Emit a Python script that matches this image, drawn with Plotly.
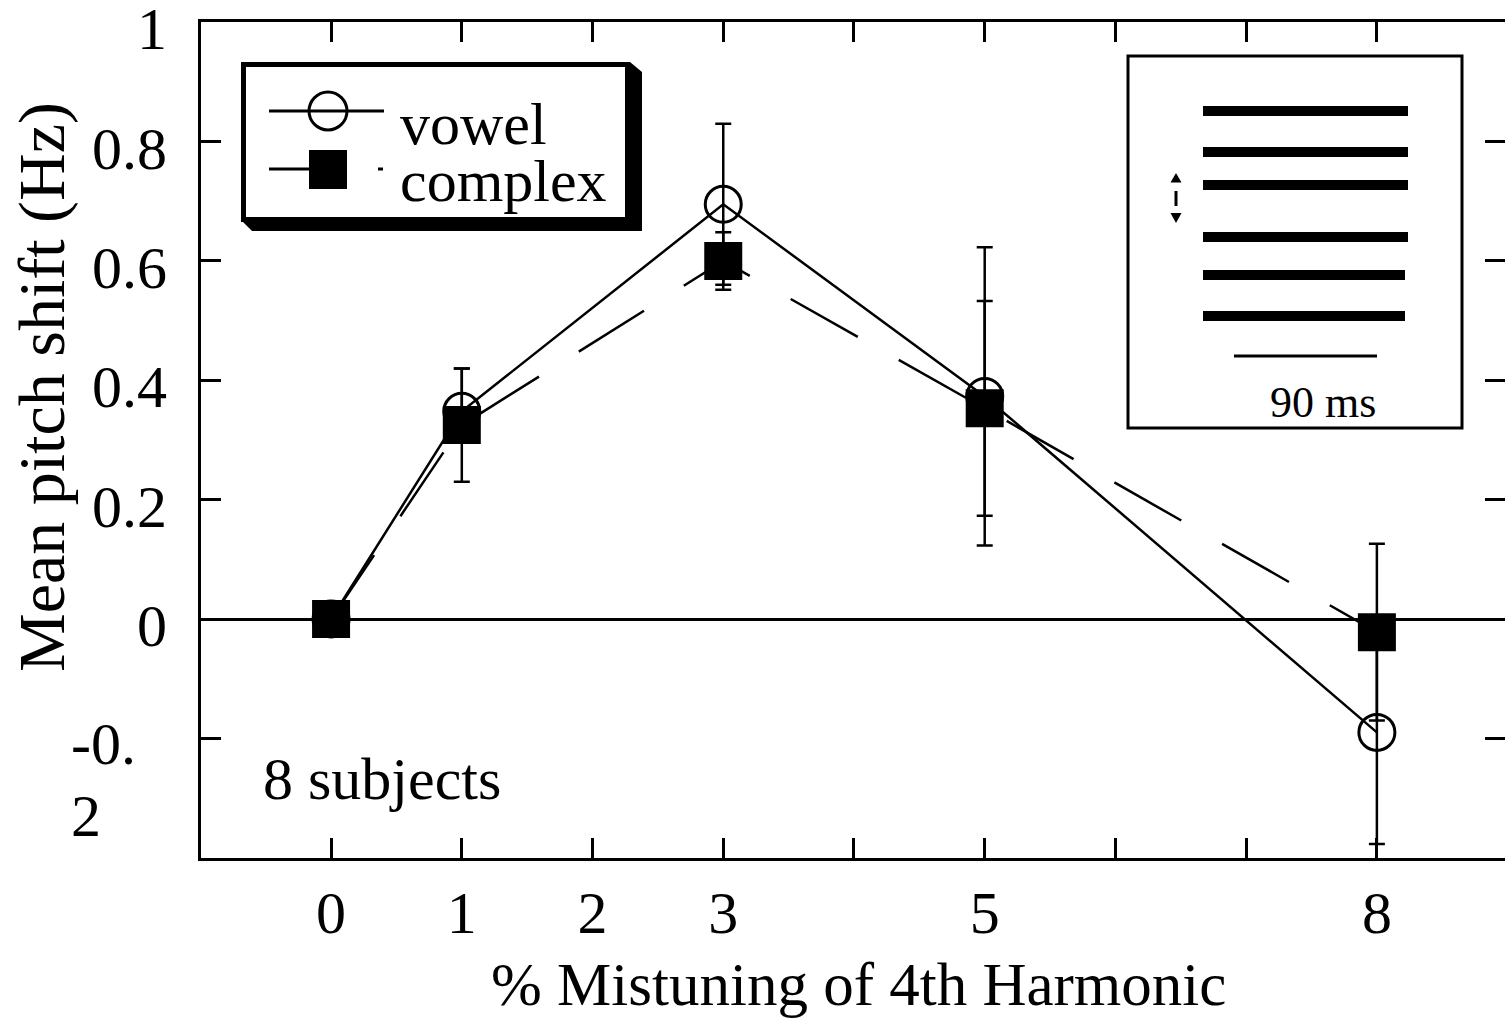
import plotly.graph_objects as go

# ---------------- data ----------------
mistuning = [0, 1, 3, 5, 8]
vowel_shift = [0.0, 0.348, 0.695, 0.373, -0.19]
vowel_err_plus = [0.0, 0.072, 0.135, 0.25, 0.187]
vowel_err_minus = [0.0, 0.04, 0.135, 0.25, 0.187]
complex_shift = [0.0, 0.325, 0.60, 0.353, -0.022]
complex_err = [0.0, 0.095, 0.048, 0.18, 0.148]

x_tick_vals = [0, 1, 2, 3, 4, 5, 6, 7, 8]
x_tick_text = ["0", "1", "2", "3", "", "5", "", "", "8"]
y_tick_vals = [-0.4, -0.2, 0, 0.2, 0.4, 0.6, 0.8, 1]
y_tick_text = ["", "", "0", "0.2", "0.4", "0.6", "0.8", "1"]
y_wrapped_label = ["-0.", "2"]  # the -0.2 label, broken over two lines

series_names = ["vowel", "complex"]
x_title = "% Mistuning of 4th Harmonic"
y_title = "Mean pitch shift (Hz)"
note_text = "8 subjects"
inset_label = "90 ms"

# ---------------- layout helpers ----------------
W, H = 1505, 1020
L, R, T, B = 201, 1505, 22, 858
FONT = "Liberation Serif"


def px(x):
    return (x - L) / (R - L)


def py(y):
    return (B - y) / (B - T)


fig = go.Figure()

fig.add_trace(go.Scatter(
    x=mistuning, y=vowel_shift, name=series_names[0], mode="lines+markers",
    line=dict(color="black", width=2.5),
    marker=dict(symbol="circle-open", size=36, color="black",
                line=dict(width=3, color="black")),
    error_y=dict(type="data", symmetric=False, array=vowel_err_plus,
                 arrayminus=vowel_err_minus, visible=True,
                 color="black", thickness=2.5, width=8),
    showlegend=False,
))
fig.add_trace(go.Scatter(
    x=mistuning, y=complex_shift, name=series_names[1], mode="lines+markers",
    line=dict(color="black", width=2.5, dash="77px,47px"),
    marker=dict(symbol="square", size=38, color="black",
                line=dict(width=0, color="black")),
    error_y=dict(type="data", array=complex_err, visible=True,
                 color="black", thickness=2.5, width=8),
    showlegend=False,
))

shapes = []
annotations = []

# ---- legend box (with drop shadow) ----
shapes.append(dict(
    type="path", xref="paper", yref="paper",
    path=("M {},{} L {},{} L {},{} L {},{} L {},{} Z".format(
        px(630), py(62), px(642), py(72), px(642), py(231),
        px(252), py(231), px(241), py(220))),
    fillcolor="black", line=dict(width=0),
))
shapes.append(dict(
    type="rect", xref="paper", yref="paper",
    x0=px(243.5), x1=px(627.5), y0=py(64.5), y1=py(219.5),
    fillcolor="white", line=dict(color="black", width=5),
))
# vowel sample
shapes.append(dict(type="line", xref="paper", yref="paper",
                   x0=px(269), x1=px(384), y0=py(111), y1=py(111),
                   line=dict(color="black", width=3)))
shapes.append(dict(type="circle", xref="paper", yref="paper",
                   x0=px(309), x1=px(347), y0=py(92), y1=py(130),
                   line=dict(color="black", width=3)))
# complex sample
shapes.append(dict(type="line", xref="paper", yref="paper",
                   x0=px(269), x1=px(328), y0=py(169), y1=py(169),
                   line=dict(color="black", width=3)))
shapes.append(dict(type="rect", xref="paper", yref="paper",
                   x0=px(309), x1=px(347), y0=py(150), y1=py(189),
                   fillcolor="black", line=dict(width=0)))
shapes.append(dict(type="line", xref="paper", yref="paper",
                   x0=px(378), x1=px(383), y0=py(169), y1=py(169),
                   line=dict(color="black", width=3)))
annotations.append(dict(text=series_names[0], xref="paper", yref="paper",
                        x=px(398), y=py(124), xanchor="left", yanchor="middle",
                        showarrow=False, font=dict(family=FONT, size=60, color="black")))
annotations.append(dict(text=series_names[1], xref="paper", yref="paper",
                        x=px(398), y=py(181), xanchor="left", yanchor="middle",
                        showarrow=False, font=dict(family=FONT, size=60, color="black")))

# ---- inset stimulus schematic ----
shapes.append(dict(type="rect", xref="paper", yref="paper",
                   x0=px(1128), x1=px(1462), y0=py(56), y1=py(428),
                   fillcolor="white", line=dict(color="black", width=3)))
for yc, xe in [(111, 1408), (152, 1408), (185, 1408), (237, 1408), (275, 1405), (316, 1405)]:
    shapes.append(dict(type="rect", xref="paper", yref="paper",
                       x0=px(1203), x1=px(xe), y0=py(yc - 5), y1=py(yc + 5),
                       fillcolor="black", line=dict(width=0)))
shapes.append(dict(type="line", xref="paper", yref="paper",
                   x0=px(1234), x1=px(1377), y0=py(356), y1=py(356),
                   line=dict(color="black", width=3)))
shapes.append(dict(type="path", xref="paper", yref="paper",
                   path="M {},{} L {},{} L {},{} Z".format(
                       px(1176), py(173), px(1170.5), py(182.5), px(1181.5), py(182.5)),
                   fillcolor="black", line=dict(width=0)))
shapes.append(dict(type="line", xref="paper", yref="paper",
                   x0=px(1176), x1=px(1176), y0=py(191), y1=py(206),
                   line=dict(color="black", width=3)))
shapes.append(dict(type="path", xref="paper", yref="paper",
                   path="M {},{} L {},{} L {},{} Z".format(
                       px(1170.5), py(213), px(1181.5), py(213), px(1176), py(223)),
                   fillcolor="black", line=dict(width=0)))
annotations.append(dict(text=inset_label, xref="paper", yref="paper",
                        x=px(1323), y=py(402), xanchor="center", yanchor="middle",
                        showarrow=False, font=dict(family=FONT, size=44, color="black")))

# ---- other text ----
annotations.append(dict(text=note_text, xref="paper", yref="paper",
                        x=px(382), y=py(779), xanchor="center", yanchor="middle",
                        showarrow=False, font=dict(family=FONT, size=60, color="black")))
for txt, yc in zip(y_wrapped_label, [744, 816]):
    annotations.append(dict(text=txt, xref="paper", yref="paper",
                            x=px(69), y=py(yc), xanchor="left", yanchor="middle",
                            showarrow=False, font=dict(family=FONT, size=60, color="black")))
annotations.append(dict(text=y_title, xref="paper", yref="paper",
                        x=px(42), y=py(387), xanchor="center", yanchor="middle",
                        textangle=-90, showarrow=False,
                        font=dict(family=FONT, size=66, color="black")))
annotations.append(dict(text=x_title, xref="paper", yref="paper",
                        x=px(858), y=py(984), xanchor="center", yanchor="middle",
                        showarrow=False, font=dict(family=FONT, size=61, color="black")))

axis_common = dict(
    showgrid=False, showline=True, linecolor="black", linewidth=3,
    mirror="allticks", ticks="inside", ticklen=20, tickwidth=2.5, tickcolor="black",
    tickfont=dict(family=FONT, size=60, color="black"), automargin=False,
    tickmode="array", ticklabeloverflow="allow",
)

fig.update_layout(
    width=W, height=H,
    margin=dict(l=L, r=W - R, t=T, b=H - B),
    paper_bgcolor="white", plot_bgcolor="white",
    font=dict(family=FONT, color="black"),
    xaxis=dict(range=[-0.995, 8.98], tickvals=x_tick_vals, ticktext=x_tick_text,
               zeroline=False, ticklabelstandoff=0, **axis_common),
    yaxis=dict(range=[-0.4005, 1.0005], tickvals=y_tick_vals, ticktext=y_tick_text,
               zeroline=True, zerolinecolor="black", zerolinewidth=2.5,
               ticklabelstandoff=19, ticklabelshift=6, **axis_common),
    shapes=shapes, annotations=annotations, showlegend=False,
)

fig.write_html("out.html", config={"displayModeBar": False},
               post_script="document.body.style.margin='0px';")
